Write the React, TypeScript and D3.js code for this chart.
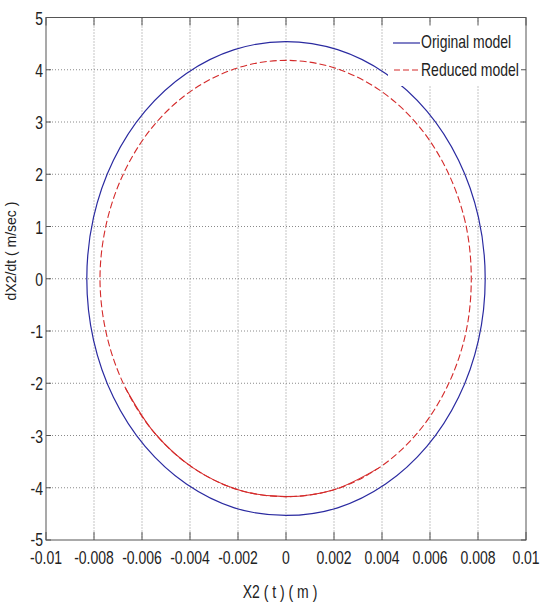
import React from "react";
import * as d3 from "d3";

// Original model phase portrait points [X2 (m), dX2/dt (m/sec)]
const originalX = [0.0083, 0.00802, 0.00719, 0.00587, 0.00415, 0.00215, 0, -0.00215, -0.00415, -0.00587, -0.00719, -0.00802, -0.0083, -0.00802, -0.00719, -0.00587, -0.00415, -0.00215, 0, 0.00215, 0.00415, 0.00587, 0.00719, 0.00802];
const originalY = [0, 1.175, 2.27, 3.21, 3.93, 4.385, 4.54, 4.385, 3.93, 3.21, 2.27, 1.175, 0, -1.175, -2.27, -3.21, -3.93, -4.385, -4.53, -4.385, -3.93, -3.21, -2.27, -1.175];

// Reduced model phase portrait points
const reducedX = [0.00772, 0.00747, 0.00669, 0.00547, 0.00387, 0.002, 0, -0.002, -0.00387, -0.00547, -0.00669, -0.00747, -0.00775, -0.00747, -0.00669, -0.00547, -0.00387, -0.002, 0, 0.002, 0.00387, 0.00547, 0.00669, 0.00747];
const reducedY = [0, 1.082, 2.09, 2.956, 3.62, 4.038, 4.18, 4.038, 3.62, 2.956, 2.09, 1.082, 0, -1.082, -2.09, -2.956, -3.62, -4.038, -4.17, -4.038, -3.62, -2.956, -2.09, -1.082];

const xTicks = [-0.01, -0.008, -0.006, -0.004, -0.002, 0, 0.002, 0.004, 0.006, 0.008, 0.01];
const xTickLabels = ["-0.01", "-0.008", "-0.006", "-0.004", "-0.002", "0", "0.002", "0.004", "0.006", "0.008", "0.01"];
const yTicks = [-5, -4, -3, -2, -1, 0, 1, 2, 3, 4, 5];
const yTickLabels = ["-5", "-4", "-3", "-2", "-1", "0", "1", "2", "3", "4", "5"];
const seriesNames = ["Original model", "Reduced model"];

const W = 541, H = 602;
const L = 46, R = 526, T = 17.5, B = 540;
const FONT = "'Liberation Sans', Arial, Helvetica, sans-serif";
const BLUE = "#2a2aa0";
const RED = "#d42a2a";
const SY = 1.25;

export default function App() {
  const x = d3.scaleLinear().domain([-0.01, 0.01]).range([L, R]);
  const y = d3.scaleLinear().domain([-5, 5]).range([B, T]);

  const orig: [number, number][] = originalX.map((v, i) => [v, originalY[i]]);
  const red: [number, number][] = reducedX.map((v, i) => [v, reducedY[i]]);

  const closed = d3.line<[number, number]>().x(d => x(d[0])).y(d => y(d[1])).curve(d3.curveCatmullRomClosed);
  const open = d3.line<[number, number]>().x(d => x(d[0])).y(d => y(d[1])).curve(d3.curveCatmullRom);
  const redLower = red.slice(14, 21);

  const axisColor = "#555";
  const gridColor = "#8a8a8a";

  return (
    <svg width={W} height={H} style={{ position: "absolute", left: 0, top: 0, background: "#fff" }}>
      <rect x={0} y={0} width={W} height={H} fill="#fff" />
      {/* grid */}
      {xTicks.slice(1, -1).map((t, i) => (
        <line key={"gx" + i} x1={x(t)} x2={x(t)} y1={T} y2={B} stroke={gridColor} strokeWidth={1} strokeDasharray="1,2" />
      ))}
      {yTicks.slice(1, -1).map((t, i) => (
        <line key={"gy" + i} x1={L} x2={R} y1={y(t)} y2={y(t)} stroke={gridColor} strokeWidth={1} strokeDasharray="1,2" />
      ))}
      {/* curves */}
      <path d={closed(orig) || ""} fill="none" stroke={BLUE} strokeWidth={1.2} />
      <path d={closed(red) || ""} fill="none" stroke={RED} strokeWidth={1.1} strokeDasharray="7,3" />
      <path d={open(redLower) || ""} fill="none" stroke={RED} strokeWidth={1.1} />
      {/* legend */}
      <rect x={388} y={22} width={137} height={64} fill="#fff" />
      <line x1={393} x2={420} y1={43} y2={43} stroke={BLUE} strokeWidth={1.2} />
      <line x1={394} x2={420} y1={70} y2={70} stroke={RED} strokeWidth={1.1} strokeDasharray="6,3" />
      <text transform={`translate(421,47.5) scale(1,${SY})`} fontFamily={FONT} fontSize={14} fill="#222">{seriesNames[0]}</text>
      <text transform={`translate(421,75.5) scale(1,${SY})`} fontFamily={FONT} fontSize={14} fill="#222">{seriesNames[1]}</text>
      {/* axes box */}
      <rect x={L} y={T} width={R - L} height={B - T} fill="none" stroke={axisColor} strokeWidth={1} />
      {xTicks.map((t, i) => (
        <g key={"xt" + i}>
          <line x1={x(t)} x2={x(t)} y1={B} y2={B - 8} stroke={axisColor} />
          <line x1={x(t)} x2={x(t)} y1={T} y2={T + 8} stroke={axisColor} />
          <text transform={`translate(${x(t)},564) scale(1,${SY})`} textAnchor="middle" fontFamily={FONT} fontSize={14} fill="#222">{xTickLabels[i]}</text>
        </g>
      ))}
      {yTicks.map((t, i) => (
        <g key={"yt" + i}>
          <line x1={L} x2={L + 5} y1={y(t)} y2={y(t)} stroke={axisColor} />
          <line x1={R} x2={R - 5} y1={y(t)} y2={y(t)} stroke={axisColor} />
          <text transform={`translate(43,${y(t) + (t === -5 ? 5.5 : 7)}) scale(1,${SY})`} textAnchor="end" fontFamily={FONT} fontSize={14} fill="#222">{yTickLabels[i]}</text>
        </g>
      ))}
      {/* axis titles */}
      <text transform={`translate(280,598) scale(1,${SY})`} textAnchor="middle" fontFamily={FONT} fontSize={14} fill="#222">X2 ( t ) ( m )</text>
      <text transform="translate(15.5,251) rotate(-90)" textAnchor="middle" fontFamily={FONT} fontSize={14} fill="#222">dX2/dt ( m/sec )</text>
    </svg>
  );
}
